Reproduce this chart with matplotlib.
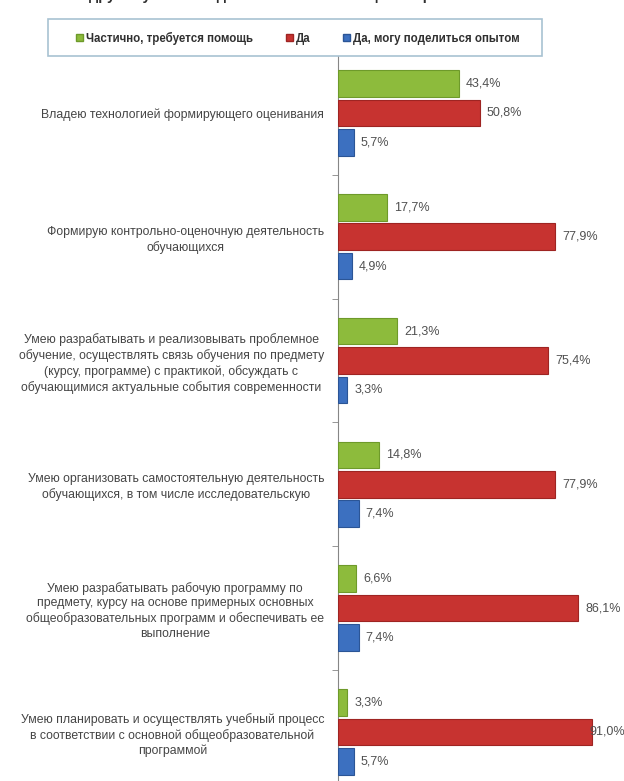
import matplotlib
matplotlib.use('Agg')
import matplotlib.pyplot as plt
import numpy as np
from matplotlib.patches import Rectangle, Patch

categories = [
    'Владею технологией формирующего оценивания',
    'Формирую контрольно-оценочную деятельность\nобучающихся',
    'Умею разрабатывать и реализовывать проблемное\nобучение, осуществлять связь обучения по предмету\n(курсу, программе) с практикой, обсуждать с\nобучающимися актуальные события современности',
    'Умею организовать самостоятельную деятельность\nобучающихся, в том числе исследовательскую',
    'Умею разрабатывать рабочую программу по\nпредмету, курсу на основе примерных основных\nобщеобразовательных программ и обеспечивать ее\nвыполнение',
    'Умею планировать и осуществлять учебный процесс\nв соответствии с основной общеобразовательной\nпрограммой',
]
partial = [43.4, 17.7, 21.3, 14.8, 6.6, 3.3]
yes = [50.8, 77.9, 75.4, 77.9, 86.1, 91.0]
share = [5.7, 4.9, 3.3, 7.4, 7.4, 5.7]
series_names = ['Частично, требуется помощь', 'Да', 'Да, могу поделиться опытом']
title = 'другие умения педагога основного общего образования'

plt.rcParams['font.family'] = ['Liberation Sans', 'DejaVu Sans']

colors = ['#8DBB3C', '#C73330', '#3C70C0']
edges = ['#6E9A2A', '#9E2422', '#2B5596']

W, H = 624, 781
fig = plt.figure(figsize=(W / 100, H / 100), dpi=100)
fig.patch.set_facecolor('white')

ax_left = 338
ax_top = 51
band = 123.8
n = len(categories)
ax_h = band * n
ax = fig.add_axes([ax_left / W, 1 - (ax_top + ax_h) / H, (W - ax_left) / W, ax_h / H])

xmax = (W - ax_left) / 2.79
y = np.arange(n)
off = 0.237
h = 0.215
series = [partial, yes, share]
offsets = [-off, 0, off]
for vals, o, c, e in zip(series, offsets, colors, edges):
    ax.barh(y + o, vals, height=h, color=c, edgecolor=e, linewidth=0.8, zorder=3)
    for yi, v in zip(y, vals):
        lx = v + 2.5
        if lx + 12.5 > xmax:
            lx = xmax - 12.5
        ax.text(lx, yi + o, f'{v:.1f}%'.replace('.', ','), va='center', ha='left',
                fontsize=9, color='#505050', zorder=4)

ax.set_ylim(n - 0.5, -0.5)
ax.set_xlim(0, xmax)
ax.set_yticks(y)
ax.set_yticklabels(categories, fontsize=8.8, color='#454545', multialignment='center',
                   linespacing=1.3)
ax.tick_params(axis='y', which='major', length=0, pad=10)
ax.set_yticks(np.arange(0.5, n - 0.5, 1), minor=True)
ax.tick_params(axis='y', which='minor', length=4, color='#868686', direction='out')
ax.set_xticks([])
for s in ['top', 'right', 'bottom']:
    ax.spines[s].set_visible(False)
ax.spines['left'].set_color('#868686')
ax.set_facecolor('none')

# legend box
rect = Rectangle((48 / W, 1 - 56 / H), 494 / W, 37 / H, transform=fig.transFigure,
                 facecolor='white', edgecolor='#A8C2D2', linewidth=1.2, zorder=4)
fig.patches.append(rect)
handles = [Patch(facecolor=c, edgecolor=e, label=l) for c, e, l in zip(colors, edges, series_names)]
leg = fig.legend(handles=handles, ncol=3, loc='center', bbox_to_anchor=(298 / W, 1 - 38 / H),
                 frameon=False, handlelength=0.6, handleheight=0.6, columnspacing=2.8,
                 handletextpad=0.3, prop={'weight': 'bold', 'size': 8.3})
leg.set_zorder(5)
for t in leg.get_texts():
    t.set_color('#303030')

fig.text(294 / W, 1 + 4 / H, title, ha='center', va='center', fontweight='bold',
         fontsize=10.5, color='#303030')

fig.savefig('out.png', dpi=100)
